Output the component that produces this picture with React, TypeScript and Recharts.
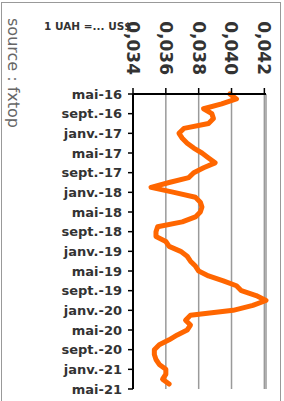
import React from "react";
import { LineChart, Line, XAxis, YAxis, CartesianGrid } from "recharts";

const categories = [
  "mai-16","juin-16","juil.-16","août-16","sept.-16","oct.-16","nov.-16","déc.-16",
  "janv.-17","févr.-17","mars-17","avr.-17","mai-17","juin-17","juil.-17","août-17",
  "sept.-17","oct.-17","nov.-17","déc.-17","janv.-18","févr.-18","mars-18","avr.-18",
  "mai-18","juin-18","juil.-18","août-18","sept.-18","oct.-18","nov.-18","déc.-18",
  "janv.-19","févr.-19","mars-19","avr.-19","mai-19","juin-19","juil.-19","août-19",
  "sept.-19","oct.-19","nov.-19","déc.-19","janv.-20","févr.-20","mars-20","avr.-20",
  "mai-20","juin-20","juil.-20","août-20","sept.-20","oct.-20","nov.-20","déc.-20",
  "janv.-21","févr.-21","mars-21","avr.-21","mai-21",
];

const uahUsd: (number | null)[] = [
  0.0399, 0.0403, 0.0394, 0.0383, 0.0388, 0.0389, 0.0386, 0.0371,
  0.0368, 0.0370, 0.0373, 0.0377, 0.0382, 0.0386, 0.0390, 0.0383,
  0.0377, 0.0374, 0.0362, 0.0351, 0.0365, 0.0378, 0.0381, 0.0382,
  0.0381, 0.0378, 0.0370, 0.0355, 0.0354, 0.0354, 0.0360, 0.0362,
  0.0369, 0.0373, 0.0375, 0.0378, 0.0380, 0.0386, 0.0395, 0.0403,
  0.0406, 0.0415, 0.0421, 0.0413, 0.0401, 0.0375, 0.0372, 0.0375,
  0.0373, 0.0367, 0.0362, 0.0356, 0.0353, 0.0353, 0.0354, 0.0356,
  0.0360, 0.0360, 0.0358, 0.0362, null,
];

const valueTicks = [0.034, 0.036, 0.038, 0.04, 0.042];
const unitLabel = "1 UAH =... US$";
const sourceLabel = "source : fxtop";

const data = categories.map((label, i) => ({ label, v: uahUsd[i] }));

const FONT = "'DejaVu Sans', Verdana, sans-serif";

const XTick = (props: any) => {
  const { x, payload } = props;
  const y = 75;
  return (
    <text
      x={x}
      y={y}
      transform={`rotate(90, ${x}, ${y})`}
      textAnchor="end"
      dy="0.36em"
      fontFamily={FONT}
      fontWeight="bold"
      fontSize={17}
      fill="#333"
    >
      {Number(payload.value).toFixed(3).replace(".", ",")}
    </text>
  );
};

export default function App() {
  return (
    <div
      style={{
        position: "absolute",
        left: 0,
        top: 0,
        width: 284,
        height: 401,
        overflow: "hidden",
        background: "#fff",
      }}
    >
      <LineChart
        width={284}
        height={401}
        data={data}
        layout="vertical"
        margin={{ top: 34, right: 18, bottom: 12, left: 0 }}
      >
        <CartesianGrid horizontal={false} stroke="#9a9a9a" strokeWidth={1.5} />
        <XAxis
          type="number"
          orientation="top"
          domain={[0.034, 0.042]}
          ticks={valueTicks}
          interval={0}
          height={60}
          tickSize={6}
          tick={<XTick />}
          axisLine={{ stroke: "#000", strokeWidth: 2 }}
          tickLine={{ stroke: "#000", strokeWidth: 1.5 }}
        />
        <YAxis
          type="category"
          dataKey="label"
          interval={3}
          width={133}
          tickSize={5}
          tickMargin={6}
          tick={{ fontFamily: FONT, fontWeight: "bold", fontSize: 13, fill: "#333" }}
          axisLine={{ stroke: "#000", strokeWidth: 2 }}
          tickLine={{ stroke: "#000", strokeWidth: 1.5 }}
        />
        <Line
          dataKey="v"
          stroke="#FF6600"
          strokeWidth={5}
          dot={false}
          isAnimationActive={false}
          strokeLinejoin="round"
          strokeLinecap="round"
          connectNulls={false}
        />
      </LineChart>
      <svg
        width={284}
        height={401}
        style={{ position: "absolute", left: 0, top: 0, pointerEvents: "none" }}
      >
        <text
          x={44}
          y={30}
          fontFamily={FONT}
          fontWeight="bold"
          fontSize={10.5}
          fill="#333"
        >
          {unitLabel}
        </text>
        <text
          x={8}
          y={18}
          transform="rotate(90, 8, 18)"
          fontFamily={FONT}
          fontSize={16}
          fill="#666"
        >
          {sourceLabel}
        </text>
      </svg>
      <div
        style={{
          position: "absolute",
          left: 1,
          top: 2,
          width: 278,
          height: 500,
          border: "1px solid #999",
          pointerEvents: "none",
        }}
      />
    </div>
  );
}
